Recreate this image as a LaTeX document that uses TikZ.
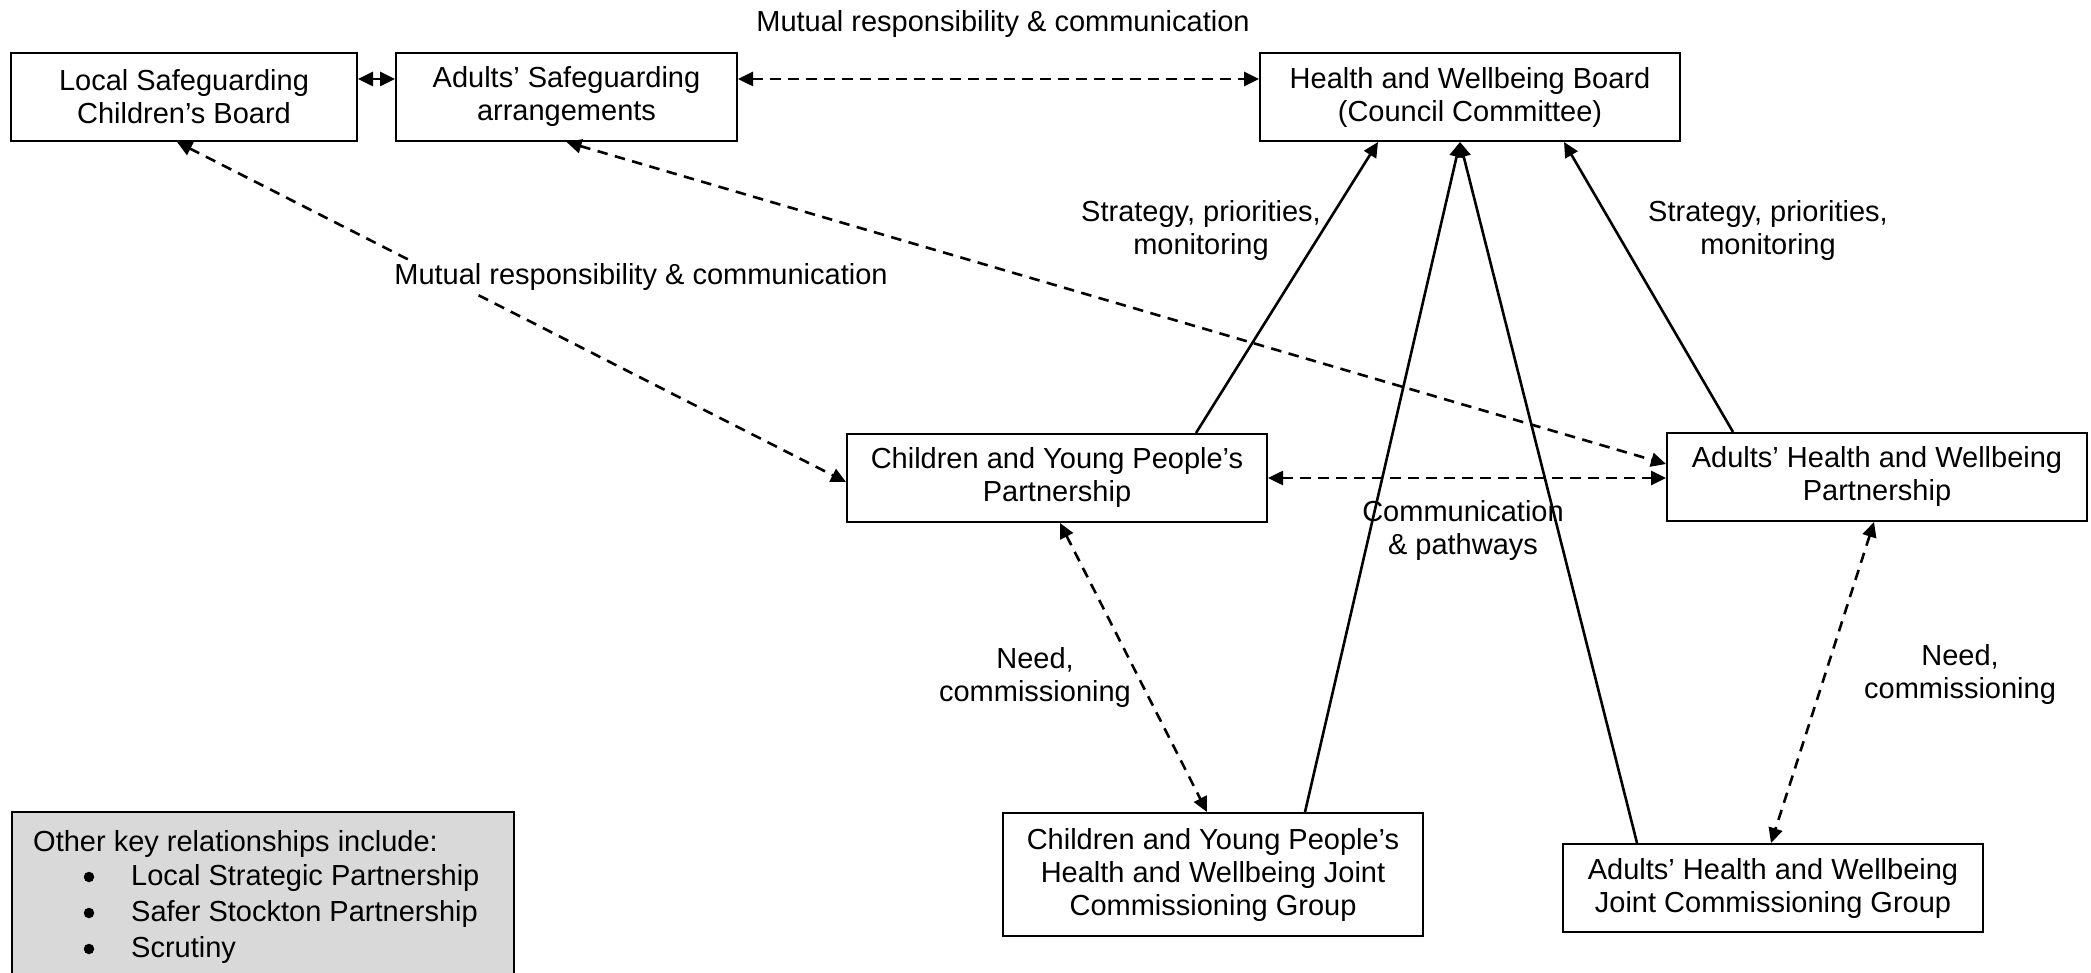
\documentclass[tikz,border=0pt]{standalone}
\usepackage{fontspec}
\setmainfont{Liberation Sans}
\usetikzlibrary{arrows.meta}
\begin{document}
\begin{tikzpicture}[x=1pt,y=-1pt,
  font=\fontsize{29}{33}\selectfont,
  >={Triangle[length=15pt,width=14pt]},
  box/.style={draw, line width=2pt, rectangle, align=center, minimum height=88pt, inner sep=0pt},
  solidlink/.style={line width=2.6pt},
  dashlink/.style={line width=2.6pt, dash pattern=on 10.5pt off 7.5pt},
  lbl/.style={align=center, inner sep=2pt},
  itemtxt/.style={anchor=west, inner sep=0pt},
  bulletdot/.style={circle, fill, inner sep=0pt, minimum size=10.5pt}]
\useasboundingbox (0,0) rectangle (2091,973);

% organisations
\node[box, minimum width=346pt] (lscb) at (184,97) {Local Safeguarding\\Children's Board};
\node[box, minimum width=341pt] (asa) at (566.5,97) {Adults' Safeguarding\\arrangements};
\node[box, minimum width=420pt] (hwb) at (1470,97) {Health and Wellbeing Board\\(Council Committee)};
\node[box, minimum width=420pt] (cypp) at (1057,478) {Children and Young People's\\Partnership};
\node[box, minimum width=420pt] (ahwp) at (1877,477) {Adults' Health and Wellbeing\\Partnership};
\node[box, minimum width=420pt, minimum height=123pt] (cypj) at (1213,874.5) {Children and Young People's\\Health and Wellbeing Joint\\Commissioning Group};
\node[box, minimum width=420pt] (ahwj) at (1773,888) {Adults' Health and Wellbeing\\Joint Commissioning Group};

% mutual links between the boards
\draw[solidlink, <->] ([yshift=18pt]lscb.east) -- ([yshift=18pt]asa.west);
\draw[dashlink, <->] ([yshift=18pt]asa.east) -- ([yshift=18pt]hwb.west);
\draw[dashlink, <->] ([xshift=-7pt]lscb.south) -- ([yshift=-4pt]cypp.west);
\draw[dashlink, <->] (asa.south) -- ([yshift=13pt]ahwp.west);
\draw[dashlink, <->] (cypp.east) -- (cypp.east -| ahwp.west);

% reporting lines to the board
\draw[solidlink, ->] ([xshift=139pt]cypp.north) -- ([xshift=-92pt]hwb.south);
\draw[solidlink, ->] ([xshift=-144pt]ahwp.north) -- ([xshift=94pt]hwb.south);
\draw[solidlink, ->] ([xshift=92pt]cypj.north) -- ([xshift=-10pt]hwb.south);
\draw[solidlink, ->] ([xshift=-136pt]ahwj.north) -- ([xshift=-10pt]hwb.south);

% commissioning links
\draw[dashlink, <->] ([xshift=3pt]cypp.south) -- ([xshift=-6pt]cypj.north);
\draw[dashlink, <->] ([xshift=-3pt]ahwp.south) -- ([xshift=-2pt]ahwj.north);

% labels
\node[lbl] (ltop) at (1003,24) {Mutual responsibility \& communication};
\node[lbl, fill=white] (lmid) at (641,277) {Mutual responsibility \& communication};
\node[lbl] (lstrat1) at (1201,231) {Strategy, priorities,\\monitoring};
\node[lbl] (lstrat2) at (1768,231) {Strategy, priorities,\\monitoring};
\node[lbl] (lcomm) at (1463,531) {Communication\\\& pathways};
\node[lbl] (lneed1) at (1035,677) {Need,\\commissioning};
\node[lbl] (lneed2) at (1960,674) {Need,\\commissioning};

% other relationships
\node[draw, line width=2pt, fill=black!15, anchor=north west, minimum width=502pt, minimum height=190pt] (legend) at (11,811) {};
\node[itemtxt] (lhead) at (33,844) {Other key relationships include:};
\node[bulletdot] (b1) at (89,877) {};
\node[itemtxt] (i1) at (131,878) {Local Strategic Partnership};
\node[bulletdot] (b2) at (89,913) {};
\node[itemtxt] (i2) at (131,914) {Safer Stockton Partnership};
\node[bulletdot] (b3) at (89,949) {};
\node[itemtxt] (i3) at (131,950) {Scrutiny};
\end{tikzpicture}
\end{document}
